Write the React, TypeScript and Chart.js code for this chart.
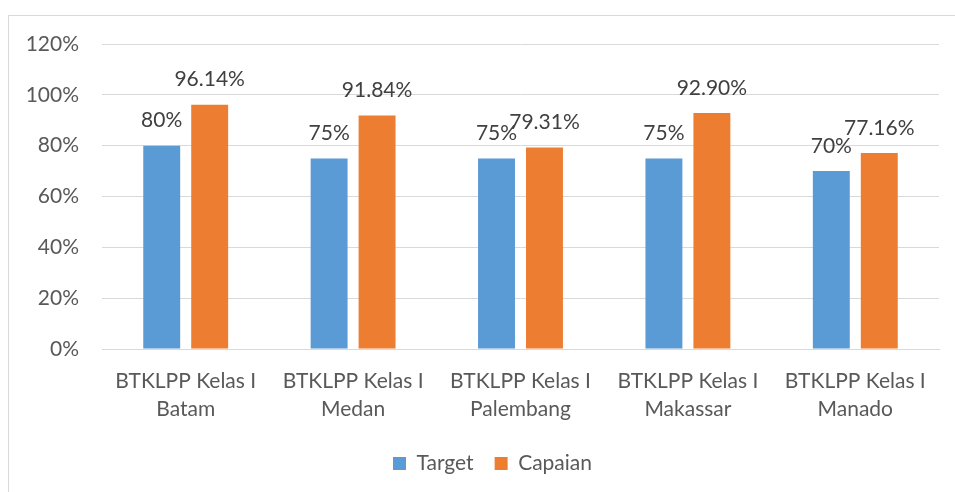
import React, { useEffect, useRef } from "react";
import { Chart, registerables } from "chart.js";

Chart.register(...registerables);

const categories: string[][] = [
  ["BTKLPP Kelas I", "Batam"],
  ["BTKLPP Kelas I", "Medan"],
  ["BTKLPP Kelas I", "Palembang"],
  ["BTKLPP Kelas I", "Makassar"],
  ["BTKLPP Kelas I", "Manado"],
];
const targetValues = [80, 75, 75, 75, 70];
const capaianValues = [96.14, 91.84, 79.31, 92.9, 77.16];
const targetLabels = ["80%", "75%", "75%", "75%", "70%"];
const capaianLabels = ["96.14%", "91.84%", "79.31%", "92.90%", "77.16%"];
const yTicks = [0, 20, 40, 60, 80, 100, 120];

const FONT = "Lato, 'Open Sans', sans-serif";
const FS = 21;

const borderPlugin = {
  id: "outerBorder",
  beforeDraw(chart: any) {
    const ctx = chart.ctx;
    ctx.save();
    ctx.fillStyle = "#ffffff";
    ctx.fillRect(0, 0, chart.width, chart.height);
    ctx.strokeStyle = "#d9d9d9";
    ctx.lineWidth = 1;
    ctx.strokeRect(8.5, 15.5, chart.width + 20, chart.height + 20);
    ctx.restore();
  },
};

const legendShiftPlugin = {
  id: "legendShift",
  afterLayout(chart: any) {
    if (chart.legend) {
      chart.legend.left += 46;
    }
  },
};

const labelPlugin = {
  id: "valueLabels",
  afterDatasetsDraw(chart: any) {
    const ctx = chart.ctx;
    const labelSets = [targetLabels, capaianLabels];
    ctx.save();
    ctx.font = `${FS}px ${FONT}`;
    ctx.fillStyle = "#404040";
    ctx.textAlign = "center";
    ctx.textBaseline = "middle";
    chart.data.datasets.forEach((_ds: any, di: number) => {
      const meta = chart.getDatasetMeta(di);
      meta.data.forEach((el: any, i: number) => {
        ctx.fillText(labelSets[di][i], el.x, el.y - 25);
      });
    });
    ctx.restore();
  },
};

export default function App() {
  const ref = useRef<HTMLCanvasElement | null>(null);
  useEffect(() => {
    if (!ref.current) return;
    Chart.defaults.font.family = FONT;
    const chart = new Chart(ref.current, {
      type: "bar",
      data: {
        labels: categories,
        datasets: [
          {
            label: "Target",
            data: targetValues,
            backgroundColor: "#5B9BD5",
            categoryPercentage: 0.573,
            barPercentage: 0.77,
          },
          {
            label: "Capaian",
            data: capaianValues,
            backgroundColor: "#ED7D31",
            categoryPercentage: 0.573,
            barPercentage: 0.77,
          },
        ],
      },
      options: {
        animation: false,
        responsive: false,
        maintainAspectRatio: false,
        layout: { padding: { left: 0, right: 16, top: 44, bottom: 8 } },
        plugins: {
          tooltip: { enabled: false },
          legend: {
            position: "bottom",
            labels: {
              boxWidth: 13,
              boxHeight: 13,
              padding: 21,
              color: "#595959",
              font: { size: FS, family: FONT },
            },
          },
        },
        scales: {
          x: {
            grid: { display: false, drawTicks: false },
            border: { display: true, color: "#d9d9d9", width: 1 },
            ticks: {
              color: "#595959",
              font: { size: FS, family: FONT, lineHeight: 1.33 },
              padding: 18,
              maxRotation: 0,
              autoSkip: false,
            },
            afterFit(scale: any) {
              scale.height = 83;
            },
          },
          y: {
            min: 0,
            max: 120,
            afterBuildTicks(scale: any) {
              scale.ticks = yTicks.map((v) => ({ value: v }));
            },
            grid: { color: "#d9d9d9", lineWidth: 1, drawTicks: false },
            border: { display: false },
            ticks: {
              color: "#595959",
              font: { size: FS, family: FONT },
              padding: 23,
              callback: (v: any) => `${v}%`,
            },
            afterFit(scale: any) {
              scale.width = 102;
            },
          },
        },
      },
      plugins: [borderPlugin, legendShiftPlugin, labelPlugin],
    });
    return () => chart.destroy();
  }, []);
  return (
    <div style={{ position: "fixed", left: 0, top: 0, width: 955, height: 492 }}>
      <canvas ref={ref} width={955} height={492} style={{ width: 955, height: 492, display: "block" }} />
    </div>
  );
}
